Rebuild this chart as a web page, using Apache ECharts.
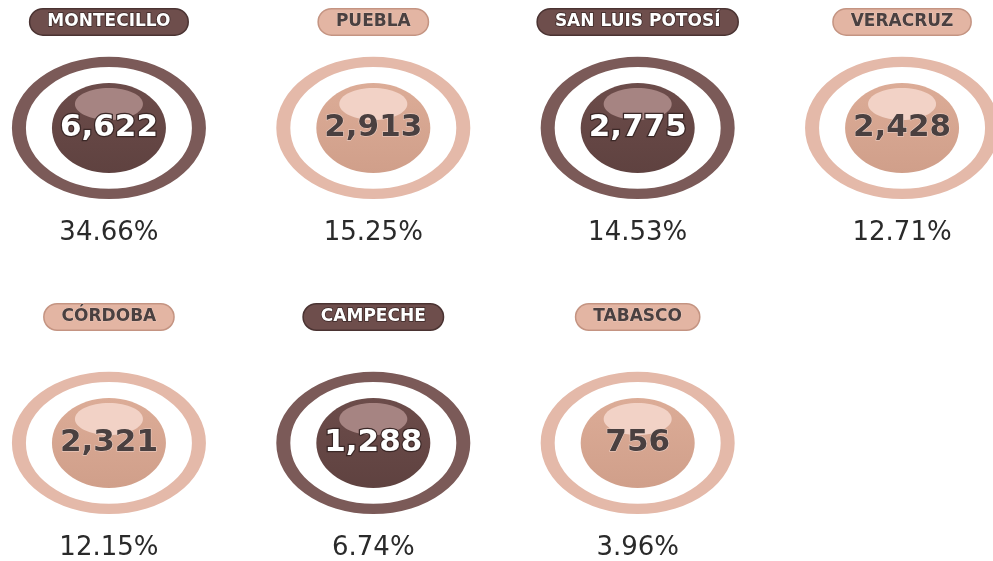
<!DOCTYPE html>
<html><head><meta charset="utf-8">
<script src="https://cdn.jsdelivr.net/npm/echarts/dist/echarts.min.js"></script>
<style>html,body{margin:0;padding:0;background:#fff}#c{width:993px;height:561px}</style>
</head><body><div id="c"></div>
<script>
// ---- data ----
const regions = ['MONTECILLO', 'PUEBLA', 'SAN LUIS POTOSÍ', 'VERACRUZ', 'CÓRDOBA', 'CAMPECHE', 'TABASCO'];
const counts = [6622, 2913, 2775, 2428, 2321, 1288, 756];
const percents = [34.66, 15.25, 14.53, 12.71, 12.15, 6.74, 3.96];
// ---- styles ----
const tones = ['dark', 'light', 'dark', 'light', 'light', 'dark', 'light'];
const palette = {
  dark:  { ring: '#7b5a58', disk: '#6c4c4a', diskLow: '#5f4240', glow: '#a68482', pill: '#6e4e4c', pillBorder: '#4a3332', text: '#ffffff', textBorder: '#3b2827', textBorderWidth: 2.5 },
  light: { ring: '#e4b9a9', disk: '#dcac97', diskLow: '#d09f8a', glow: '#f2d2c6', pill: '#e3b5a3', pillBorder: '#c49482', text: '#4a4040', textBorder: '#efd3c8', textBorderWidth: 1 }
};
const perRow = 4;
const ELLIPSE = 'path://M50,0 C77.6,0 100,22.4 100,50 C100,77.6 77.6,100 50,100 C22.4,100 0,77.6 0,50 C0,22.4 22.4,0 50,0 Z';
const FONT = 'DejaVu Sans';

const pos = i => [i % perRow, Math.floor(i / perRow)];

function items(fn) {
  return counts.map((v, i) => Object.assign({ value: pos(i) }, fn(i, palette[tones[i]])));
}

const base = { type: 'scatter', silent: true, emphasis: { disabled: true } };

const chart = echarts.init(document.getElementById('c'), null, { renderer: 'canvas' });
chart.setOption({
  backgroundColor: '#ffffff',
  animation: false,
  grid: { left: 0, right: 0, top: 0, bottom: 0 },
  xAxis: { type: 'value', min: -0.412, max: 3.344, show: false },
  yAxis: { type: 'value', min: -0.406, max: 1.3746, inverse: true, show: false },
  series: [
    Object.assign({}, base, { // outer ring
      z: 1, symbol: ELLIPSE, symbolSize: [180, 132],
      data: items((i, p) => ({ itemStyle: { color: '#ffffff', borderColor: p.ring, borderWidth: 12, opacity: 1 } }))
    }),
    Object.assign({}, base, { // inner disk
      z: 2, symbol: ELLIPSE, symbolSize: [114, 90],
      data: items((i, p) => ({ itemStyle: { opacity: 1,
        color: new echarts.graphic.LinearGradient(0, 0, 0, 1, [{ offset: 0, color: p.disk }, { offset: 1, color: p.diskLow }]) } }))
    }),
    Object.assign({}, base, { // highlight
      z: 3, symbol: ELLIPSE, symbolSize: [68, 32], symbolOffset: [0, -24],
      data: items((i, p) => ({ itemStyle: { color: p.glow, opacity: 1 } }))
    }),
    Object.assign({}, base, { // counts
      z: 4, symbolSize: 1,
      data: items((i, p) => ({
        itemStyle: { color: 'rgba(0,0,0,0)', opacity: 1 },
        label: {
          show: true, position: 'inside', formatter: counts[i].toLocaleString('en-US'),
          fontFamily: FONT, fontWeight: 'bold', fontSize: 31, color: p.text,
          textBorderColor: p.textBorder, textBorderWidth: p.textBorderWidth
        }
      }))
    }),
    Object.assign({}, base, { // region pills
      z: 4, symbolSize: 1,
      data: items((i, p) => ({
        itemStyle: { color: 'rgba(0,0,0,0)', opacity: 1 },
        label: {
          show: true, position: 'inside', offset: [0, pos(i)[1] ? -126 : -106],
          formatter: regions[i], fontFamily: FONT, fontWeight: 'bold', fontSize: 17, lineHeight: 17,
          color: p.text, textBorderColor: p.textBorder, textBorderWidth: p.textBorderWidth * 0.6,
          backgroundColor: p.pill, borderColor: p.pillBorder, borderWidth: 1.5,
          borderRadius: 13, padding: [4, 17]
        }
      }))
    }),
    Object.assign({}, base, { // percentages
      z: 4, symbolSize: 1,
      data: items((i, p) => ({
        itemStyle: { color: 'rgba(0,0,0,0)', opacity: 1 },
        label: {
          show: true, position: 'inside', offset: [0, 105],
          formatter: percents[i].toFixed(2) + '%', fontFamily: FONT, fontSize: 26, color: '#2a2a2a'
        }
      }))
    })
  ]
});
</script>
</body></html>
